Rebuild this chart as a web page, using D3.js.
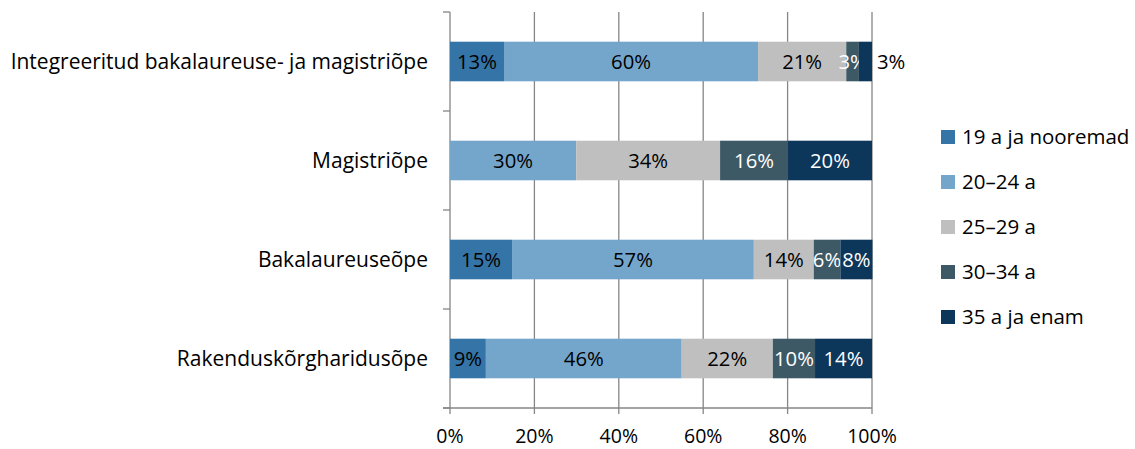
<!DOCTYPE html>
<html>
<head>
<meta charset="utf-8">
<script src="https://cdn.jsdelivr.net/npm/d3@7"></script>
<style>
  body { margin: 0; background: #fff; }
  text { font-family: "Open Sans", sans-serif; }
</style>
</head>
<body>
<svg id="chart" width="1135" height="449"></svg>
<script>
// categories top to bottom
var categories = ["Integreeritud bakalaureuse- ja magistriõpe", "Magistriõpe", "Bakalaureuseõpe", "Rakenduskõrgharidusõpe"];
var seriesNames = ["19 a ja nooremad", "20–24 a", "25–29 a", "30–34 a", "35 a ja enam"];
var seriesColors = ["#3574a6", "#74a6cc", "#bfbfbf", "#3e5966", "#0c365a"];
var labelColors = ["#000", "#000", "#000", "#fff", "#fff"];
// shares per category (percent)
var s19 = [12.8, 0, 14.7, 8.5];
var s20 = [60.2, 29.9, 57.3, 46.4];
var s25 = [20.9, 34.1, 14.2, 21.6];
var s30 = [3.0, 16.1, 6.3, 10.0];
var s35 = [3.1, 19.9, 7.6, 13.5];
var xTicks = [0, 20, 40, 60, 80, 100];

var svg = d3.select("#chart");
var x = d3.scaleLinear().domain([0, 100]).range([450, 872]);
var y = d3.scaleBand().domain(categories).range([12, 408]).paddingInner(0.6).paddingOuter(0.3);

var rows = categories.map(function(c, i) {
    return { cat: c, vals: [s19[i], s20[i], s25[i], s30[i], s35[i]] };
});

// gridlines
svg.append("g").selectAll("line").data(xTicks.slice(1)).enter().append("line")
    .attr("x1", function(d) { return x(d); }).attr("x2", function(d) { return x(d); })
    .attr("y1", 12).attr("y2", 414)
    .attr("stroke", "#868686").attr("stroke-width", 1.3);

// x axis
svg.append("line").attr("x1", 443).attr("x2", x(100)).attr("y1", 408).attr("y2", 408)
    .attr("stroke", "#868686").attr("stroke-width", 1.3);
svg.append("line").attr("x1", x(0)).attr("x2", x(0)).attr("y1", 408).attr("y2", 414)
    .attr("stroke", "#868686").attr("stroke-width", 1.3);
svg.append("g").selectAll("text").data(xTicks).enter().append("text")
    .attr("x", function(d) { return x(d); }).attr("y", 443)
    .attr("text-anchor", "middle").attr("font-size", "19.5px").attr("fill", "#000")
    .text(function(d) { return d + "%"; });

// y axis
svg.append("line").attr("x1", x(0)).attr("x2", x(0)).attr("y1", 12).attr("y2", 408)
    .attr("stroke", "#868686").attr("stroke-width", 1.3);
var bounds = [12].concat(categories.map(function(c) { return y(c) - y.step() * y.paddingOuter() + y.step(); }));
svg.append("g").selectAll("line").data(bounds).enter().append("line")
    .attr("x1", 443).attr("x2", x(0))
    .attr("y1", function(d) { return d; }).attr("y2", function(d) { return d; })
    .attr("stroke", "#868686").attr("stroke-width", 1.3);

svg.append("g").selectAll("text").data(categories).enter().append("text")
    .attr("x", 428).attr("y", function(d) { return y(d) + y.bandwidth() / 2; })
    .attr("dy", "0.35em").attr("text-anchor", "end").attr("font-size", "21px").attr("fill", "#000")
    .text(function(d) { return d; });

// bars
rows.forEach(function(r) {
    var acc = 0;
    r.vals.forEach(function(v, k) {
        var x0 = acc;
        acc += v;
        if (v <= 0) return;
        svg.append("rect")
            .attr("x", x(x0)).attr("width", x(acc) - x(x0))
            .attr("y", y(r.cat)).attr("height", y.bandwidth())
            .attr("fill", seriesColors[k]);
        var outside = (r.cat === categories[0] && k === 4);
        svg.append("text")
            .attr("x", outside ? x(100) + 5 : x(x0 + v / 2))
            .attr("y", y(r.cat) + y.bandwidth() / 2)
            .attr("dy", "0.35em")
            .attr("text-anchor", outside ? "start" : "middle")
            .attr("font-size", "20.3px")
            .attr("fill", outside ? "#000" : labelColors[k])
            .text(Math.round(v) + "%");
    });
});

// legend
var leg = svg.append("g").selectAll("g").data(seriesNames).enter().append("g")
    .attr("transform", function(d, i) { return "translate(941," + (137 + i * 45) + ")"; });
leg.append("rect").attr("x", 0).attr("y", -7).attr("width", 14).attr("height", 14)
    .attr("fill", function(d, i) { return seriesColors[i]; });
leg.append("text").attr("x", 21).attr("dy", "0.35em").attr("font-size", "20.5px").attr("fill", "#000")
    .text(function(d) { return d; });
</script>
</body>
</html>
